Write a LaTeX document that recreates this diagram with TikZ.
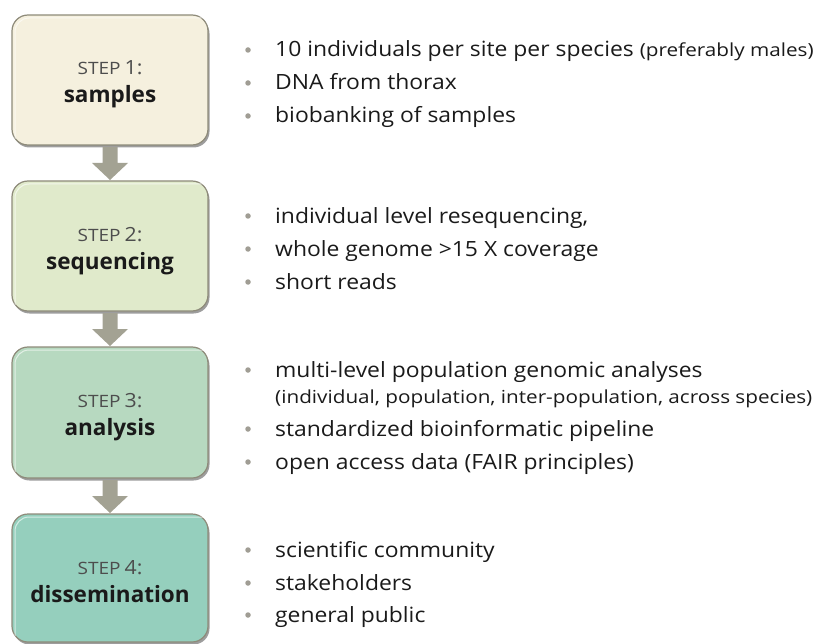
\documentclass[tikz,border=0pt]{standalone}
\usepackage{fontspec}
\setmainfont{Open Sans}
\newfontfamily\bodyfont[FakeStretch=1.09]{Open Sans}
\newfontfamily\notefont[FakeStretch=1.15]{Open Sans}
\newfontfamily\capsfont[FakeStretch=1.12]{Open Sans}
\usetikzlibrary{shadows}
\definecolor{boxA}{HTML}{F5F0DE}
\definecolor{boxB}{HTML}{E0EACB}
\definecolor{boxC}{HTML}{B7D9C0}
\definecolor{boxD}{HTML}{95CFBD}
\definecolor{rimgray}{HTML}{8E8B7A}
\definecolor{arrowgray}{HTML}{A3A293}
\definecolor{dotgray}{HTML}{A09D94}
\definecolor{stepgray}{HTML}{4D4D4D}
\definecolor{textblack}{HTML}{1A1A1A}
\tikzset{
  stepbox/.style={rounded corners=16pt, draw=rimgray, line width=1.2pt,
    drop shadow={shadow xshift=1.5pt, shadow yshift=-2.5pt, opacity=0.55, fill=black!70}},
  stepnum/.style={anchor=base, inner sep=0pt, text=stepgray},
  stepname/.style={anchor=base, inner sep=0pt, text=textblack, font=\fontsize{22.5}{24}\selectfont\bfseries},
  flowarrow/.style={fill=arrowgray, draw=none},
  bullet/.style={circle, fill=dotgray, inner sep=0pt, minimum size=5.5pt},
  item/.style={anchor=base west, inner sep=0pt, text=textblack, font=\bodyfont\fontsize{21}{24}\selectfont},
  note/.style={anchor=base west, inner sep=0pt, text=textblack, font=\notefont\fontsize{18}{21}\selectfont}
}
\newcommand{\stepword}[1]{{\capsfont\fontsize{17}{18}\selectfont STEP}\hspace{4pt}{\bodyfont\fontsize{19.5}{20}\selectfont #1:}}
\begin{document}
\begin{tikzpicture}[x=1pt,y=-1pt]
\useasboundingbox (0,0) rectangle (818,644);

% step boxes
\foreach \c/\t/\b in {boxA/15/145, boxB/181/311, boxC/347/478, boxD/514/642}{
  \path[stepbox, fill=\c] (12,\t) rectangle (208,\b);
  \draw[white, opacity=0.6, line width=1pt, rounded corners=14pt] (15,\b-6) -- (15,\t+3) -- (205,\t+3);
}
\node[stepnum] (n1) at (110,75) {\stepword{1}};
\node[stepname] (s1) at (110,103) {samples};
\node[stepnum] (n2) at (110,241) {\stepword{2}};
\node[stepname] (s2) at (110,269) {sequencing};
\node[stepnum] (n3) at (110,407) {\stepword{3}};
\node[stepname] (s3) at (110,435) {analysis};
\node[stepnum] (n4) at (110,574) {\stepword{4}};
\node[stepname] (s4) at (110,602) {dissemination};

% downward block arrows
\coordinate (a1) at (110,147);
\coordinate (a2) at (110,313);
\coordinate (a3) at (110,480);
\foreach \a in {a1,a2,a3}{
  \fill[flowarrow] ([xshift=-7.5pt]\a) -- ([xshift=7.5pt]\a) -- ([xshift=7.5pt,yshift=-16pt]\a)
    -- ([xshift=18pt,yshift=-16pt]\a) -- ([yshift=-33pt]\a) -- ([xshift=-18pt,yshift=-16pt]\a)
    -- ([xshift=-7.5pt,yshift=-16pt]\a) -- cycle;
}

% bullet lists
\foreach \y/\n in {50/b11, 83/b12, 116/b13, 216/b21, 249/b22, 282/b23, 370/b31, 429/b32, 462/b33, 550/b41, 583/b42, 615/b43}{
  \node[bullet] (\n) at (248,\y) {};
}
\node[item] (t11) at (275,57) {10 individuals per site per species {\notefont\fontsize{18}{21}\selectfont(preferably males)}};
\node[item] (t12) at (275,90) {DNA from thorax};
\node[item] (t13) at (275,123) {biobanking of samples};
\node[item] (t21) at (275,223) {individual level resequencing,};
\node[item] (t22) at (275,256) {whole genome >15 X coverage};
\node[item] (t23) at (275,289) {short reads};
\node[item] (t31) at (275,377) {multi-level population genomic analyses};
\node[note] (t31b) at (275,403) {(individual, population, inter-population, across species)};
\node[item] (t32) at (275,436) {standardized bioinformatic pipeline};
\node[item] (t33) at (275,469) {open access data (FAIR principles)};
\node[item] (t41) at (275,557) {scientific community};
\node[item] (t42) at (275,590) {stakeholders};
\node[item] (t43) at (275,622) {general public};
\end{tikzpicture}
\end{document}
